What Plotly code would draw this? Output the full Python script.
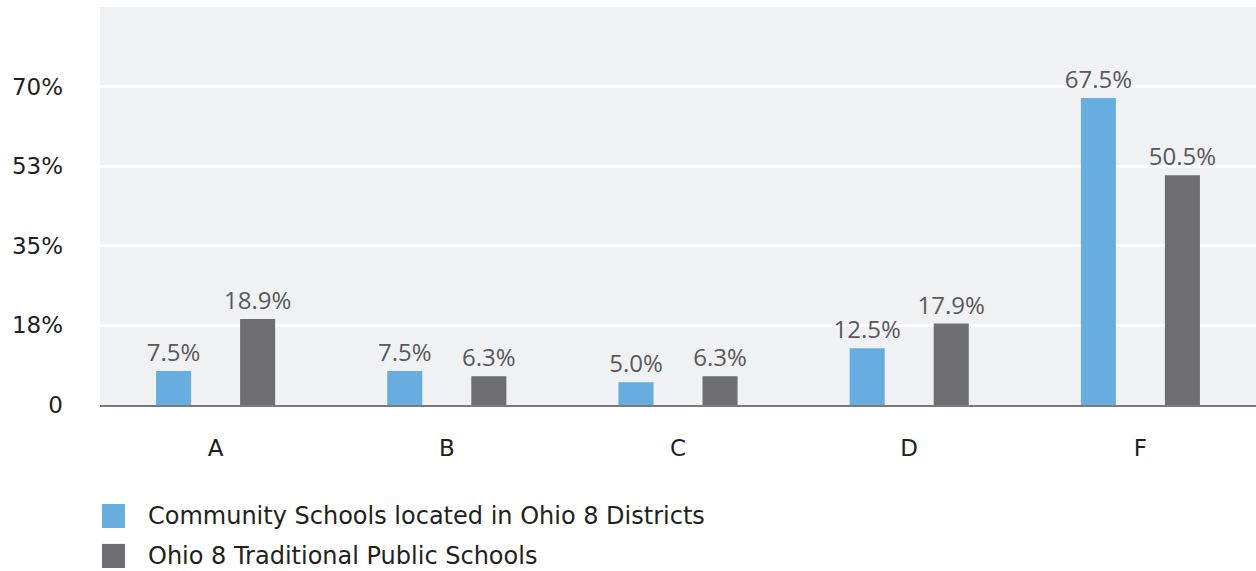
import plotly.graph_objects as go

categories = ["A", "B", "C", "D", "F"]
community = [7.5, 7.5, 5.0, 12.5, 67.5]
traditional = [18.9, 6.3, 6.3, 17.9, 50.5]
series_names = ["Community Schools located in Ohio 8 Districts", "Ohio 8 Traditional Public Schools"]
tick_vals = [0, 17.5, 35, 52.5, 70]
tick_text = ["0", "18%", "35%", "53%", "70%"]

BLUE = "#68addf"
GRAY = "#6e6d72"
FONT = "DejaVu Sans"
LABEL_FONT = "Open Sans"
LABEL_COLOR = "#58595b"
DARK = "#231f20"

fig = go.Figure()
for name, vals, col in [(series_names[0], community, BLUE), (series_names[1], traditional, GRAY)]:
    fig.add_trace(go.Bar(
        x=categories, y=vals, name=name, marker_color=col, marker_line_width=0,
        text=[f"{v:.1f}%" for v in vals], textposition="outside", constraintext="none",
        textfont=dict(size=24, color=LABEL_COLOR, family=LABEL_FONT),
        cliponaxis=False, showlegend=False,
    ))

fig.update_layout(
    width=1256, height=571,
    margin=dict(l=100, r=0, t=7, b=166),
    plot_bgcolor="#f0f1f3", paper_bgcolor="white",
    barmode="group", bargap=0.273, bargroupgap=0.583,
    font=dict(family=FONT, color=DARK),
)
fig.update_yaxes(
    range=[0, 87.5], tickvals=tick_vals, ticktext=tick_text,
    showgrid=True, gridcolor="white", gridwidth=3, zeroline=False,
    tickfont=dict(size=23, color=DARK, family=FONT), ticklabelstandoff=36,
)
fig.update_xaxes(
    showline=True, linecolor="#7a7a7c", linewidth=2, showgrid=False,
    tickfont=dict(size=23, color=DARK, family=FONT), ticklabelstandoff=21,
)

# custom legend
leg_y = [(-0.2487, -0.309), (-0.349, -0.4095)]
for (y1, y0), col, name in zip(leg_y, [BLUE, GRAY], series_names):
    fig.add_shape(type="rect", xref="paper", yref="paper", x0=0.0017, x1=0.0216,
                  y0=y0, y1=y1, fillcolor=col, line_width=0)
    fig.add_annotation(xref="paper", yref="paper", x=0.0398, y=(y0 + y1) / 2,
                       xanchor="left", yanchor="middle", text=name, showarrow=False,
                       font=dict(size=24, color=DARK, family=FONT))

fig.write_html("out.html", config={"displayModeBar": False},
               post_script="document.body.style.margin='0px';document.body.style.overflow='hidden';")
